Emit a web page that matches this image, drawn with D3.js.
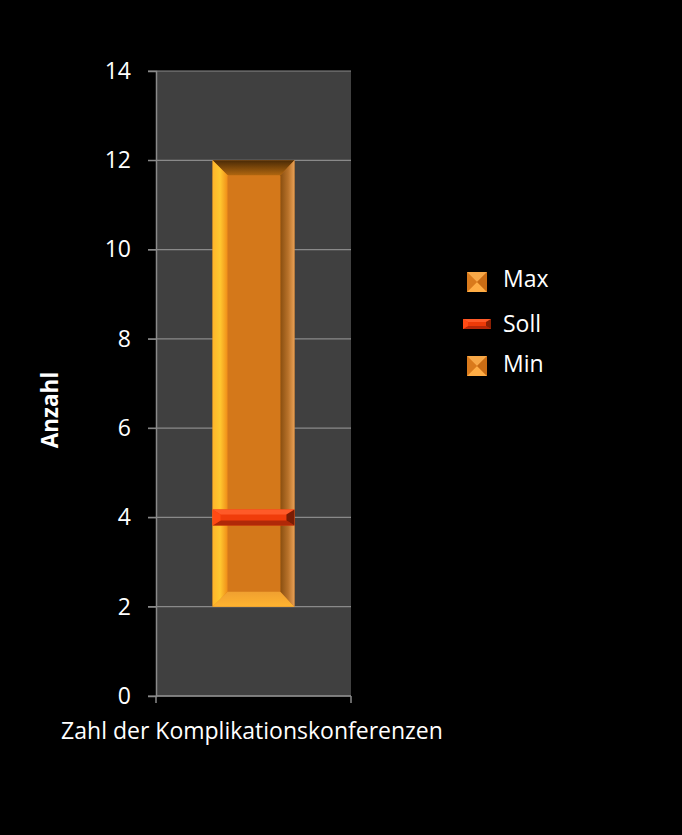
<!DOCTYPE html>
<html><head><meta charset="utf-8">
<script src="https://cdn.jsdelivr.net/npm/d3@7/dist/d3.min.js"></script>
<style>body{margin:0;background:#000;} text{font-family:"Open Sans",sans-serif;}</style>
</head><body>
<svg id="c" width="682" height="835"></svg>
<script>
const categories = ["Zahl der Komplikationskonferenzen"];
const minValues = [2];
const maxValues = [12];
const sollValues = [4];
const yTicks = [0,2,4,6,8,10,12,14];
const legendItems = ["Max","Soll","Min"];

const svg = d3.select("#c");
svg.append("rect").attr("width",682).attr("height",835).attr("fill","#000");
const defs = svg.append("defs");
const m = {l:156, r:351, t:71, b:696};
const y = d3.scaleLinear().domain([0,14]).range([m.b,m.t]);
const x = d3.scaleBand().domain(categories).range([m.l,m.r]).paddingInner(0.58).paddingOuter(0.29);

svg.append("rect").attr("x",m.l).attr("y",m.t).attr("width",m.r-m.l).attr("height",m.b-m.t).attr("fill","#404040");
svg.append("g").selectAll("line").data(yTicks).join("line")
  .attr("x1",m.l-8).attr("x2",m.r).attr("y1",d=>y(d)).attr("y2",d=>y(d))
  .attr("stroke","#8a8a8a").attr("stroke-width",1.2);
const yAxis = svg.append("g").attr("transform",`translate(${m.l},0)`)
  .call(d3.axisLeft(y).tickValues(yTicks).tickSize(8).tickPadding(17));
yAxis.select(".domain").attr("stroke","#8a8a8a").attr("stroke-width",1.5);
yAxis.selectAll("line").attr("stroke","#8a8a8a");
yAxis.selectAll("text").attr("fill","#fff").attr("font-size",23).attr("font-family","Open Sans");
svg.append("line").attr("x1",m.l).attr("x2",m.r).attr("y1",m.b).attr("y2",m.b).attr("stroke","#8a8a8a").attr("stroke-width",1.5);
[m.l,m.r].forEach(px=>svg.append("line").attr("x1",px).attr("x2",px).attr("y1",m.b).attr("y2",m.b+7).attr("stroke","#8a8a8a").attr("stroke-width",1.5));
svg.append("text").attr("x",252).attr("y",739).attr("text-anchor","middle").attr("fill","#fff").attr("font-size",23).text(categories[0]);
svg.append("text").attr("transform","translate(58,410) rotate(-90)").attr("text-anchor","middle").attr("fill","#fff").attr("font-size",22.5).attr("font-weight","bold").text("Anzahl");

function lg(id,stops,x1,y1,x2,y2){const g=defs.append("linearGradient").attr("id",id).attr("x1",x1).attr("y1",y1).attr("x2",x2).attr("y2",y2);
 stops.forEach(s=>g.append("stop").attr("offset",s[0]).attr("stop-color",s[1]));}
lg("gl",[[0,"#ffb52a"],[0.5,"#ffc830"],[1,"#f08e18"]],0,0,1,0);
lg("gr",[[0,"#8a4f10"],[0.55,"#b8722a"],[1,"#e8a055"]],0,0,1,0);
lg("gt",[[0,"#4a2a06"],[1,"#b0660f"]],0,0,0,1);
lg("gb",[[0,"#f0a030"],[1,"#ffb430"]],0,0,0,1);

function bevelBox(g,x0,y0,w,h,b,fills){
  const x1=x0+w,y1=y0+h;
  g.append("rect").attr("x",x0).attr("y",y0).attr("width",w).attr("height",h).attr("fill",fills.face);
  g.append("polygon").attr("points",[[x0,y0],[x1,y0],[x1-b.r,y0+b.t],[x0+b.l,y0+b.t]].join(" ")).attr("fill",fills.top);
  g.append("polygon").attr("points",[[x0,y1],[x1,y1],[x1-b.r,y1-b.b],[x0+b.l,y1-b.b]].join(" ")).attr("fill",fills.bottom);
  g.append("polygon").attr("points",[[x0,y0],[x0+b.l,y0+b.t],[x0+b.l,y1-b.b],[x0,y1]].join(" ")).attr("fill",fills.left);
  g.append("polygon").attr("points",[[x1,y0],[x1-b.r,y0+b.t],[x1-b.r,y1-b.b],[x1,y1]].join(" ")).attr("fill",fills.right);
}
const bw = x.bandwidth();
categories.forEach((c,i)=>{
  const g=svg.append("g");
  bevelBox(g,x(c),y(maxValues[i]),bw,y(minValues[i])-y(maxValues[i]),{l:15,r:14,t:15,b:15},
    {face:"#d4781a",top:"url(#gt)",bottom:"url(#gb)",left:"url(#gl)",right:"url(#gr)"});
  const sh=16, sy=y(sollValues[i])-sh/2;
  bevelBox(g,x(c),sy,bw,sh,{l:8,r:8,t:5,b:5},
    {face:"#f03c0a",top:"#ff5a28",bottom:"#b02808",left:"#ff4a14",right:"#7a1c04"});
});

const ly=[281,324,365];
const lgG=svg.append("g");
legendItems.forEach((name,i)=>{
  const g=lgG.append("g");
  if(name==="Soll"){
    bevelBox(g,463,ly[i]-5,28,10,{l:5,r:5,t:3,b:3},{face:"#ee3a08",top:"#ff5a28",bottom:"#b82808",left:"#ff4a14",right:"#8a2004"});
  } else {
    const s=20,x0=467,y0=ly[i]-9;
    g.append("rect").attr("x",x0).attr("y",y0).attr("width",s).attr("height",s).attr("fill","#e88a2a");
    g.append("polygon").attr("points",[[x0,y0],[x0+s,y0],[x0+s/2,y0+s/2]].join(" ")).attr("fill","#f7a848");
    g.append("polygon").attr("points",[[x0,y0+s],[x0+s,y0+s],[x0+s/2,y0+s/2]].join(" ")).attr("fill","#ffad45");
    g.append("polygon").attr("points",[[x0,y0],[x0,y0+s],[x0+s/2,y0+s/2]].join(" ")).attr("fill","#d97a1c");
    g.append("polygon").attr("points",[[x0+s,y0],[x0+s,y0+s],[x0+s/2,y0+s/2]].join(" ")).attr("fill","#c96c14");
  }
  g.append("text").attr("x",503).attr("y",[287,332,372][i]).attr("fill","#fff").attr("font-size",23).text(name);
});
</script>
</body></html>
